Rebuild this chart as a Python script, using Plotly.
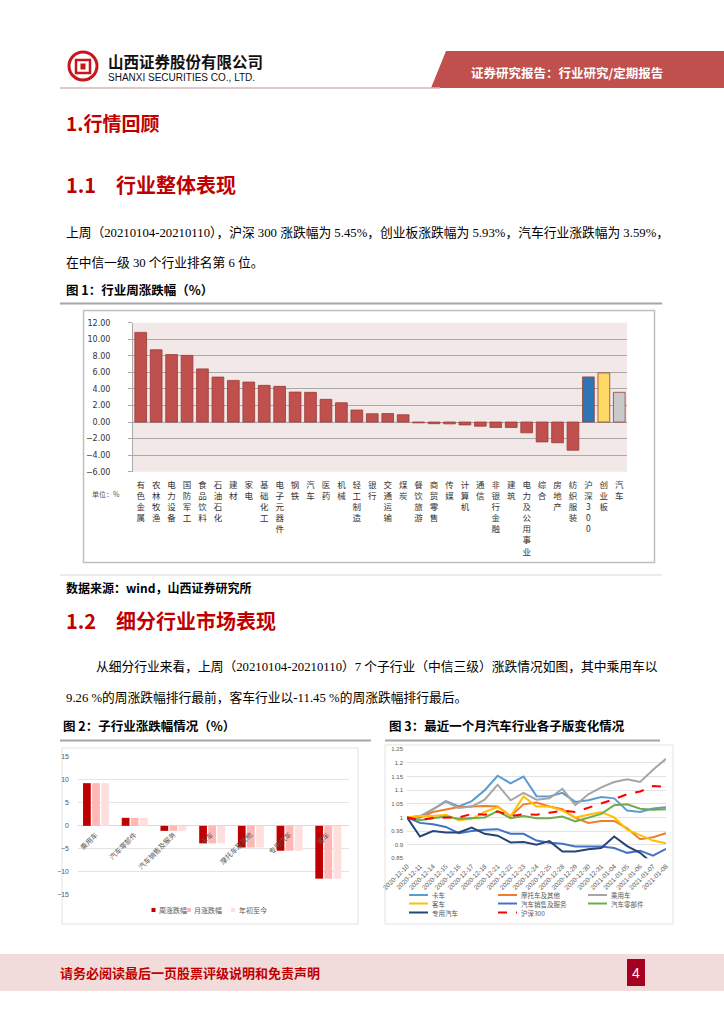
import plotly.graph_objects as go

W, H = 724, 1024


def px(x):
    return x / W


def py(y):
    return 1 - y / H


# ---------------- data ----------------
industries = ['有色金属', '农林牧渔', '电力设备', '国防军工', '食品饮料', '石油石化', '建材', '家电',
              '基础化工', '电子元器件', '钢铁', '汽车', '医药', '机械', '轻工制造', '银行', '交通运输',
              '煤炭', '餐饮旅游', '商贸零售', '传媒', '计算机', '通信', '非银行金融', '建筑',
              '电力及公用事业', '综合', '房地产', '纺织服装']
industry_changes = [10.83, 8.73, 8.15, 8.05, 6.42, 5.43, 5.03, 4.83, 4.43, 4.31, 3.62, 3.59, 2.74,
                    2.33, 1.45, 1.00, 1.02, 0.88, -0.10, -0.20, -0.22, -0.35, -0.50, -0.65, -0.65,
                    -1.30, -2.40, -2.50, -3.40]
indices = ['沪深300', '创业板', '汽车']
index_changes = [5.45, 5.93, 3.59]

sub_industries = ['乘用车', '汽车零部件', '汽车销售及服务', '卡车', '摩托车及其他', '专用汽车', '客车']
week_changes = [9.26, 1.74, -1.09, -3.80, -4.70, -5.40, -11.45]
month_changes = [9.26, 1.74, -1.09, -3.80, -4.70, -5.40, -11.45]
ytd_changes = [9.26, 1.74, -1.09, -3.80, -4.70, -5.40, -11.45]

dates = ['2020-12-10', '2020-12-11', '2020-12-14', '2020-12-15', '2020-12-16', '2020-12-17',
         '2020-12-18', '2020-12-21', '2020-12-22', '2020-12-23', '2020-12-24', '2020-12-25',
         '2020-12-28', '2020-12-29', '2020-12-30', '2020-12-31', '2021-01-04', '2021-01-05',
         '2021-01-06', '2021-01-07', '2021-01-08']
truck = [1.0, 1.0, 1.03, 1.06, 1.04, 1.06, 1.10, 1.153, 1.125, 1.15, 1.078, 1.077, 1.09, 1.057,
         1.063, 1.075, 1.07, 1.025, 1.02, 1.033, 1.037]
moto = [1.0, 1.0, 1.02, 1.03, 1.038, 1.04, 1.042, 1.04, 1.005, 1.048, 1.055, 1.04, 1.03, 0.998,
        0.98, 0.987, 0.987, 0.96, 0.92, 0.927, 0.942]
car = [1.0, 1.005, 1.03, 1.057, 1.035, 1.04, 1.065, 1.12, 1.063, 1.09, 1.065, 1.07, 1.105, 1.045,
       1.085, 1.11, 1.13, 1.14, 1.13, 1.175, 1.215]
bus = [1.0, 1.005, 1.005, 1.01, 0.99, 0.995, 1.02, 1.038, 1.005, 1.077, 1.04, 1.04, 1.025, 1.0,
       1.01, 1.02, 1.0, 0.955, 0.935, 0.915, 0.905]
sales = [1.0, 0.98, 0.975, 0.965, 0.942, 0.95, 0.955, 0.957, 0.94, 0.94, 0.915, 0.907, 0.903,
         0.893, 0.893, 0.893, 0.888, 0.87, 0.878, 0.86, 0.885]
parts = [1.0, 0.99, 0.997, 1.003, 0.995, 0.997, 1.0, 1.023, 0.997, 1.005, 0.997, 0.997, 1.003,
         0.985, 1.0, 1.013, 1.045, 1.048, 1.032, 1.028, 1.03]
special = [1.0, 0.93, 0.95, 0.945, 0.945, 0.963, 0.94, 0.933, 0.908, 0.91, 0.9, 0.913, 0.875,
           0.875, 0.883, 0.888, 0.93, 0.895, 0.87, 0.83, 0.81]
hs300 = [1.0, 0.99, 0.998, 1.0, 1.0, 1.013, 1.01, 1.022, 1.005, 1.012, 1.01, 1.017, 1.025, 1.02,
         1.035, 1.05, 1.067, 1.085, 1.095, 1.115, 1.112]
y3_ticks = [0.85, 0.9, 0.95, 1.0, 1.05, 1.1, 1.15, 1.2, 1.25]

CJK = 'Noto Sans CJK SC'
BODY = 'Liberation Serif, Noto Sans CJK SC'
RED = '#C00000'
GREY = '#595959'

fig = go.Figure()

# ---------------- figure 1 ----------------
cats1 = industries + indices
vals1 = industry_changes + index_changes
pos1 = list(range(len(cats1)))
colors1 = ['#C0504D'] * len(industries) + ['#2E75B6', '#FFD966', '#C9C9C9']
fig.add_trace(go.Bar(x=pos1, y=vals1, width=0.76,
                     marker=dict(color=colors1, line=dict(color='#9A3B38', width=0.8)),
                     xaxis='x', yaxis='y', showlegend=False, hoverinfo='skip'))

# ---------------- figure 2 ----------------
series2 = [('周涨跌幅', week_changes, '#C00000'),
           ('月涨跌幅', month_changes, '#FFB7B7'),
           ('年初至今', ytd_changes, '#FFDEDE')]
offsets2 = [-0.37, -0.135, 0.10]
for (name, vals, col), off in zip(series2, offsets2):
    fig.add_trace(go.Bar(x=sub_industries, y=vals, name=name, width=0.2, offset=off,
                         marker=dict(color=col, line=dict(width=0)),
                         xaxis='x2', yaxis='y2', showlegend=False))

# ---------------- figure 3 ----------------
series3 = [('卡车', truck, '#5B9BD5', 'solid'),
           ('摩托车及其他', moto, '#ED7D31', 'solid'),
           ('乘用车', car, '#A5A5A5', 'solid'),
           ('客车', bus, '#FFC000', 'solid'),
           ('汽车销售及服务', sales, '#4472C4', 'solid'),
           ('汽车零部件', parts, '#70AD47', 'solid'),
           ('专用汽车', special, '#264478', 'solid'),
           ('沪深300', hs300, '#FF0000', 'dash')]
for name, vals, col, dash in series3:
    fig.add_trace(go.Scatter(x=dates, y=vals, name=name, mode='lines',
                             line=dict(color=col, width=2, dash=dash),
                             xaxis='x3', yaxis='y3', showlegend=False))

shapes = []
annotations = []


def rect(x0, y0, x1, y1, fill=None, line=None, lw=1, layer='below'):
    shapes.append(dict(type='rect', xref='paper', yref='paper', x0=px(x0), x1=px(x1),
                       y0=py(y1), y1=py(y0), fillcolor=fill or 'rgba(0,0,0,0)',
                       line=dict(color=line or 'rgba(0,0,0,0)', width=lw if line else 0),
                       layer=layer))


def hline(x0, x1, y, color, width=1, dash='solid'):
    shapes.append(dict(type='line', xref='paper', yref='paper', x0=px(x0), x1=px(x1),
                       y0=py(y), y1=py(y), line=dict(color=color, width=width, dash=dash)))


def text(x, y, s, size, color='#000000', family=CJK, xanchor='left', **kw):
    annotations.append(dict(xref='paper', yref='paper', x=px(x), y=py(y), text=s,
                            showarrow=False, xanchor=xanchor, yanchor='middle',
                            font=dict(size=size, color=color, family=family), **kw))


# ---------- header ----------
shapes.append(dict(type='circle', xref='paper', yref='paper', x0=px(69), x1=px(97), y0=py(80),
                   y1=py(52), line=dict(color='#C8161D', width=3)))
rect(76, 60, 90, 73, line='#C8161D', lw=2.5, layer='above')
rect(80.5, 63.5, 85.5, 69.5, fill='#C8161D', layer='above')
text(106, 61, '<b>山西证券股份有限公司</b>', 15.5, '#111111', CJK)
text(106, 77, 'SHANXI SECURITIES CO., LTD.', 10, '#111111', 'Liberation Sans Narrow, Liberation Sans')
shapes.append(dict(type='path', xref='paper', yref='paper',
                   path='M {} {} L {} {} L {} {} L {} {} Z'.format(px(446), py(51), px(724), py(51),
                                                                   px(724), py(88), px(431), py(88)),
                   fillcolor='#C0504D', line=dict(width=0)))
hline(60, 440, 88, '#D8B4B4', 1.5)
text(567, 72, '<b>证券研究报告：行业研究/定期报告</b>', 12.5, '#FFFFFF', CJK, xanchor='center')

# ---------- section texts ----------
text(64, 122, '<b>1.行情回顾</b>', 19, RED)
text(64, 184, '<b>1.1\u2003行业整体表现</b>', 20, RED)
text(64, 232, '上周（20210104-20210110），沪深 300 涨跌幅为 5.45%，创业板涨跌幅为 5.93%，汽车行业涨跌幅为 3.59%，',
     12.75, '#000000', BODY)
text(64, 262, '在中信一级 30 个行业排名第 6 位。', 12.75, '#000000', BODY)
text(64, 289, '<b>图 1：行业周涨跌幅（%）</b>', 12.5, '#000000', CJK)
hline(60, 662, 303.5, '#A6A6A6', 2)
rect(83.5, 310.5, 654.5, 562.5, line='#BFBFBF', lw=1.5)
text(90, 494, '单位：%', 7, GREY, CJK)
hline(60, 662, 575, '#D9D9D9', 1)
text(64, 587, '<b>数据来源：wind，山西证券研究所</b>', 12, '#000000', CJK)
text(64, 620, '<b>1.2\u2003细分行业市场表现</b>', 20, RED)
text(94, 666, '从细分行业来看，上周（20210104-20210110）7 个子行业（中信三级）涨跌情况如图，其中乘用车以',
     12.75, '#000000', BODY)
text(64, 697, '9.26 %的周涨跌幅排行最前，客车行业以-11.45 %的周涨跌幅排行最后。', 12.75, '#000000', BODY)
text(61, 725, '<b>图 2：子行业涨跌幅情况（%）</b>', 12.5, '#000000', CJK)
text(387, 725, '<b>图 3：最近一个月汽车行业各子版变化情况</b>', 12.5, '#000000', CJK)
hline(60, 371, 740.5, '#A6A6A6', 2)
hline(385, 660, 740.5, '#A6A6A6', 2)
rect(62, 748, 358, 924, line='#E3E3E3', lw=1)
rect(385, 745, 673, 924, line='#E3E3E3', lw=1)

# ---------- fig 1 plot background ----------
shapes.append(dict(type='rect', xref='x domain', yref='y domain', x0=0, x1=1, y0=0, y1=1,
                   fillcolor='#F2E8E7', line=dict(width=0), layer='below'))

# ---------- fig 2 category labels & legend ----------
for cat in sub_industries:
    annotations.append(dict(xref='x2', yref='y2', x=cat, y=0, text=cat, showarrow=False,
                            textangle=-45, xanchor='right', yanchor='top', xshift=5, yshift=-1,
                            font=dict(size=7, color=GREY, family=CJK)))
leg2_x = [151.5, 187, 231]
for (name, vals, col), lx in zip(series2, leg2_x):
    rect(lx, 908, lx + 4, 912, fill=col, layer='above')
    text(lx + 5.5, 910, name, 7, GREY, CJK)

# ---------- fig 3 legend ----------
leg3_cols = [409, 498, 588]
leg3_rows = [895, 903.5, 912.5]
for i, (name, vals, col, dash) in enumerate(series3):
    lx = leg3_cols[i % 3]
    ly = leg3_rows[i // 3]
    hline(lx, lx + 19, ly, col, 2, dash)
    text(lx + 21, ly, name, 6.5, GREY, CJK)

# ---------- footer ----------
rect(0, 954, 724, 991, fill='#F2DCDB')
text(58, 972, '<b>请务必阅读最后一页股票评级说明和免责声明</b>', 13, '#C00000', CJK)
rect(627, 959, 645, 986, fill='#A50021', layer='above')
text(636, 972.5, '4', 14, '#FFFFFF', 'Liberation Sans', xanchor='center')

# ---------------- axes ----------------
axis_font = dict(family='DejaVu Sans', size=8, color='#333333')
fig.update_layout(
    width=W, height=H, margin=dict(l=0, r=0, t=0, b=0, pad=0, autoexpand=False),
    paper_bgcolor='white', plot_bgcolor='rgba(0,0,0,0)',
    showlegend=False, barmode='group',
    font=dict(family=CJK),
    shapes=shapes, annotations=annotations,
    xaxis=dict(domain=[px(133), px(627)], anchor='y', range=[-0.5, len(cats1) - 0.5],
               tickvals=pos1, ticktext=['<br>'.join(list(c)) for c in cats1],
               tickfont=dict(family=CJK, size=8.5, color='#333333'), tickangle=0,
               showgrid=False, zeroline=False, showline=False, ticks='',
               ticklabelstandoff=7, automargin=False),
    yaxis=dict(domain=[py(471.7), py(322.7)], anchor='x', range=[-6, 12], dtick=2,
               tickformat='.2f', tickfont=axis_font, gridcolor='#A9A9A9', gridwidth=1,
               showline=True, linecolor='#A9A9A9', linewidth=1, ticks='outside', ticklen=4,
               tickcolor='#A9A9A9', zeroline=True, zerolinecolor='#A0A0A0', zerolinewidth=1,
               ticklabelstandoff=16, automargin=False),
    xaxis2=dict(domain=[px(78), px(349)], anchor='y2', range=[-0.5, len(sub_industries) - 0.5],
                showticklabels=False, showgrid=False, zeroline=False, showline=False, ticks='',
                automargin=False),
    yaxis2=dict(domain=[py(895), py(756.7)], anchor='x2', range=[-15, 15], dtick=5,
                tickfont=dict(family='Liberation Sans', size=7, color=GREY),
                gridcolor='#E3E3E3', gridwidth=1, zeroline=True, zerolinecolor='#D9D9D9',
                zerolinewidth=1, showline=False, ticklabelstandoff=8, automargin=False),
    xaxis3=dict(domain=[px(407), px(666)], anchor='y3', type='category', tickangle=-45,
                tickfont=dict(family='Liberation Sans', size=6.5, color=GREY),
                showgrid=False, zeroline=False, showline=False, ticks='', ticklabelstandoff=2,
                automargin=False),
    yaxis3=dict(domain=[py(858.3), py(749.3)], anchor='x3', range=[0.85, 1.25],
                tickvals=y3_ticks, ticktext=['{:g}'.format(v) for v in y3_ticks],
                tickfont=dict(family='Liberation Sans', size=6, color=GREY),
                gridcolor='#E3E3E3', gridwidth=1, zeroline=False, showline=False,
                ticklabelstandoff=3, automargin=False),
)

fig.write_html('out.html', config={'displayModeBar': False},
               post_script="document.body.style.margin='0';document.body.style.overflow='hidden';")
